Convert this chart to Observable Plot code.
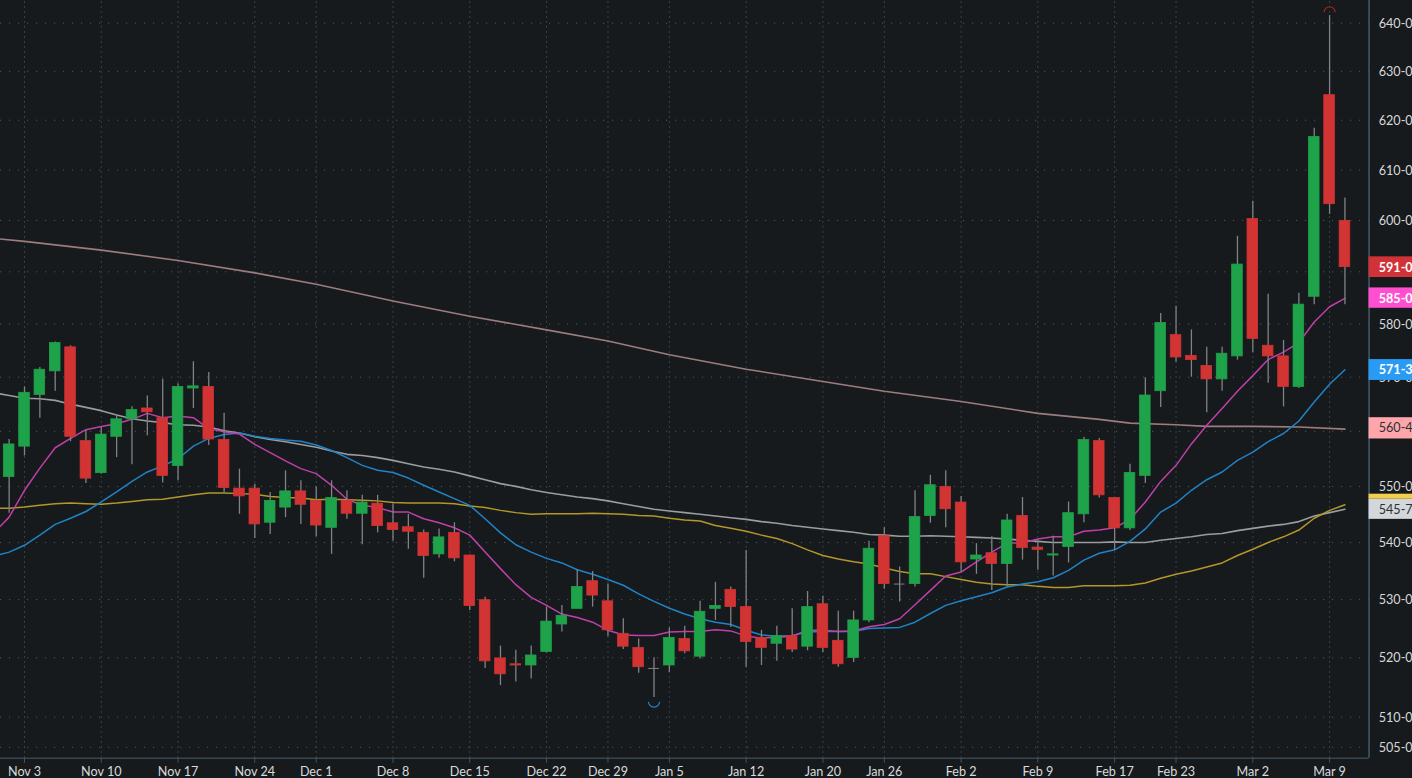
<!DOCTYPE html>
<html>
<head>
<meta charset="utf-8">
<script src="https://cdn.jsdelivr.net/npm/d3@7"></script>
<script src="https://cdn.jsdelivr.net/npm/@observablehq/plot@0.6"></script>
<style>
html,body{margin:0;padding:0;background:#161a1d;overflow:hidden}
</style>
</head>
<body>
<div id="chart"></div>
<script>
const opens=[551.7,557.2,566.7,571.1,575.6,558.2,552.4,559.0,562.2,564.2,562.4,553.7,567.9,568.2,558.4,549.6,549.6,543.5,546.2,549.1,547.4,542.6,547.4,545.1,546.9,543.4,542.7,541.7,537.9,541.7,537.7,529.9,519.9,518.9,518.7,521.0,525.7,528.4,533.2,529.7,524.1,521.7,518.2,518.7,523.2,520.2,528.4,531.7,528.7,523.4,522.4,523.7,521.9,529.2,522.9,520.0,526.4,541.1,532.7,532.7,544.7,549.9,547.1,537.0,538.1,536.2,544.7,539.1,537.7,539.2,545.0,558.2,547.9,542.5,551.9,567.4,577.9,574.0,572.1,569.6,573.9,600.3,575.9,573.9,568.2,585.2,625.1,599.9];
const closes=[557.6,567.1,571.4,576.4,559.0,551.4,559.4,562.2,563.9,563.5,551.9,568.2,568.3,558.5,549.7,548.2,543.2,547.4,549.1,546.7,543.0,547.9,545.1,547.1,542.9,542.2,541.9,537.6,540.9,537.2,528.9,519.4,517.2,518.7,520.4,526.2,527.2,532.2,530.7,524.7,521.9,518.4,518.2,523.4,521.1,527.9,528.9,528.7,522.7,521.7,523.7,521.4,528.7,521.7,518.9,526.4,538.9,532.7,532.7,544.5,550.2,545.9,536.5,537.7,536.2,543.9,539.0,538.7,537.9,545.2,558.4,548.4,542.5,552.4,566.6,580.2,573.7,573.2,569.6,574.4,591.4,577.2,573.9,568.2,583.7,616.6,603.2,590.9];
const highs=[558.5,568.2,571.8,576.6,575.9,560.2,560.7,562.9,564.5,566.5,569.6,568.8,572.9,570.9,563.3,553.1,550.4,548.9,552.8,551.0,549.9,551.0,549.2,548.4,548.4,546.9,545.0,542.2,542.4,543.5,537.8,530.4,522.0,521.3,522.0,528.7,529.0,535.2,534.9,532.7,526.7,523.2,520.0,525.1,525.4,529.7,533.0,532.2,538.6,524.7,525.4,528.4,531.4,530.6,528.0,528.0,540.2,542.6,535.7,549.2,552.0,552.8,548.2,539.8,541.0,545.0,548.0,540.4,541.1,547.2,558.9,558.7,547.9,554.0,569.9,582.0,583.4,578.9,575.6,575.6,596.9,603.8,585.7,576.9,585.9,618.4,641.6,604.4];
const lows=[545.2,555.5,562.4,567.4,558.1,550.5,552.2,555.2,553.9,559.2,550.6,551.0,564.2,557.4,548.8,545.0,540.7,541.4,544.4,543.2,541.0,537.9,544.1,539.6,541.7,540.2,538.8,533.7,537.2,536.6,528.1,518.2,515.3,515.9,516.4,520.8,524.4,528.4,528.7,523.6,521.4,517.4,513.3,517.5,520.7,519.8,526.4,525.2,518.4,518.7,519.4,520.9,521.2,520.9,518.4,519.2,526.0,531.8,529.6,532.2,543.4,542.6,534.8,534.4,531.6,532.2,536.9,535.1,534.1,536.4,543.5,547.9,538.6,542.1,550.5,564.4,572.8,570.0,563.4,567.4,573.2,574.6,568.9,564.5,567.9,583.7,601.2,583.7];

// moving averages: first value sits one bar left of the visible window
const maMagenta=[541.7,544.5,549.3,553.3,557,558.7,560.3,560.9,561.4,562.2,563.3,562.5,562.8,562.5,560.5,559.9,559.5,557.6,556.1,554.6,553.2,552.3,550.2,547.7,546.6,546.2,545.4,545.4,544.2,543.5,542.6,541.3,538.3,535.4,532.6,530.4,529,527.5,526.9,526.1,524.7,523.9,523.8,523.8,524.4,524.5,524.5,524.8,524.6,523.7,523.4,523.5,523.7,524.7,524.7,524.5,524.6,525.3,525.7,526.7,529.1,531.6,534.1,534.8,536.6,538.3,539.9,539.9,540.6,541,541,542,542.2,542.6,544.1,547.2,550.9,553.8,557.7,561.1,564.2,567.4,570.3,573.3,574.7,576.5,580.4,583.3,584.9];
const maBlue=[537.6,538.3,539.5,541.3,543.2,544.3,545.5,547.2,549,550.9,552.6,553.7,555,557.3,558.7,559.4,559.7,559.1,558.7,558.4,558.2,557.5,556.5,555.2,553.8,552.9,552.5,551.5,550.2,549,547.8,546.6,544.2,541.7,539.6,538.3,537.2,536.4,535.2,534.4,533.5,532.5,531,529.7,528.5,527.5,526.7,526.1,525.7,524.7,523.9,523.7,523.8,524.4,524.5,524.5,524.5,525,525.1,525.2,526.1,527.6,529,529.8,530.5,531.2,532.2,532.7,533.1,533.8,535.1,536.9,538.1,538.7,540.2,542.4,545.4,547,549.3,551.2,552.6,554.7,556.2,558.1,559.6,561.9,565.4,568.7,571.4];
const maGold=[546.1,546.1,546.3,546.6,546.9,547,546.9,546.8,547,547.3,547.6,547.7,548.1,548.5,548.8,548.8,548.7,548.6,548.2,548,547.9,547.6,547.7,547.6,547.5,547.4,547.1,547,547,547,546.9,546.5,546.2,545.7,545.3,545,545.1,545.1,545.1,545.2,545.1,545,544.8,544.7,544.3,544,543.8,543,542.5,542,541.3,540.7,539.8,538.7,537.7,537.1,536.6,536.2,535.5,534.9,534.5,534.5,534,533.5,533,532.7,532.6,532.6,532.3,532.1,532.1,532.4,532.4,532.4,532.5,532.9,533.7,534.4,535,535.7,536.4,537.7,538.8,540,541,542.2,544.3,545.7,546.7];
const maGray=[567.1,566.6,566.1,566,565.7,565,564.4,563.8,563,562.3,561.9,561.6,561.2,561.1,560.8,560.1,559.7,559,558.5,558.1,557.6,557.1,556.4,555.8,555.6,555.2,554.7,554.1,553.5,553.1,552.6,551.9,551.2,550.5,550,549.4,548.9,548.5,548.1,547.8,547.4,546.9,546.4,545.9,545.6,545.3,545,544.7,544.4,544.1,543.7,543.4,543,542.7,542.4,542.1,541.8,541.4,541.3,541.1,541.1,541.2,541.1,541,540.9,540.8,540.6,540.4,540.2,540,540,540,540,540.1,540,540,540.4,540.7,541,541.4,541.6,542.1,542.5,542.9,543.2,543.7,544.7,545.3,545.9];
const brownBars=[-1,1,6,11,16,20,25,30,35,39,43,48,53,57,62,67,71,73,76,78,81,84,87];
const maBrown=[596.5,595.9,594.2,592.2,589.8,587.6,584.4,581.5,578.9,576.8,574.2,571.5,569.2,567.4,565.5,563.3,562.2,561.5,561.2,560.9,560.9,560.8,560.4];

const dateBars=[1,6,11,16,20,25,30,35,39,43,48,53,57,62,67,72,76,81,86];
const dateLabels=["Nov 3","Nov 10","Nov 17","Nov 24","Dec 1","Dec 8","Dec 15","Dec 22","Dec 29","Jan 5","Jan 12","Jan 20","Jan 26","Feb 2","Feb 9","Feb 17","Feb 23","Mar 2","Mar 9"];
const gridPrices=[640,630,620,610,600,590,580,570,560,550,540,530,520,510,505];
const priceTicks=[640,630,620,610,600,580,570,550,540,530,520,510,505];

const lastLabels=["591-0","585-0","571-3","560-4","545-7"];
const labelCenters=[590.9,584.9,571.4,560.6,545.9];
const labelTops=[592.9,586.9,573.3,562.5,547.7];
const labelBottoms=[588.9,583.0,569.4,558.6,544.1];
const labelFills=["#d03237","#ff4fd0","#2a9bf5","#ffa6ad","#d3d7db"];
const labelInks=["#ffffff","#ffffff","#ffffff","#2b2f33","#2b2f33"];
const labelWeights=["bold","bold","bold","normal","normal"];
const goldStrip=[548.6,547.7];

const highMark=642.3, highBar=86, lowMark=512.6, lowBar=42;
const xMin=-0.5634, xAxis=88.57, xMax=91.4, xText=89.2;
const yMin=503.2, yMax=644.77;

const bars=opens.map((o,i)=>({i,o,c:closes[i],h:highs[i],l:lows[i]}));
const line=a=>a.map((v,k)=>({i:k-1,v}));
const up=bars.filter(d=>d.c>d.o), down=bars.filter(d=>d.c<d.o), flat=bars.filter(d=>d.c===d.o);
const labels=lastLabels.map((t,k)=>({t,c:labelCenters[k],a:labelTops[k],b:labelBottoms[k],f:labelFills[k],ink:labelInks[k],w:labelWeights[k]}));
const halfWidth=0.345;
const body=(data,color)=>Plot.rect(data,{x1:d=>d.i-halfWidth,x2:d=>d.i+halfWidth,y1:"o",y2:"c",fill:color,stroke:color,strokeWidth:0.8});
const maLine=(a,color,w=1.5)=>Plot.line(line(a),{x:"i",y:"v",stroke:color,strokeWidth:w,curve:"linear",clip:true});

const arc=(start,end)=>({draw(ctx,size){const r=Math.sqrt(size/Math.PI);ctx.arc(0,0,r,start,end);}});

const chart=Plot.plot({
  width:1412,height:778,
  marginLeft:0,marginRight:0,marginTop:0,marginBottom:20.3,
  style:{background:"#161a1d",fontFamily:"Lato",fontSize:"13px",color:"#d8d8d8"},
  x:{type:"linear",domain:[xMin,xMax],axis:null},
  y:{type:"log",domain:[yMin,yMax],axis:null},
  color:{type:"identity"},
  marks:[
    Plot.ruleY(gridPrices,{x1:xMin,x2:xAxis,stroke:"#50565a",strokeWidth:1,strokeDasharray:"1.2 7.8"}),
    Plot.ruleX(dateBars,{y1:yMin,y2:yMax,stroke:"#3f4f57",strokeWidth:1,strokeDasharray:"1.5 3.5"}),
    Plot.line(brownBars.map((b,k)=>({i:b,v:maBrown[k]})),{x:"i",y:"v",stroke:"#9c7c7e",strokeWidth:1.6,clip:true}),
    maLine(maGray,"#9a9c9e",1.6),
    maLine(maGold,"#b4962a",1.5),
    maLine(maBlue,"#2083c6",1.5),
    maLine(maMagenta,"#c03fa8",1.5),
    Plot.ruleX(bars,{x:"i",y1:"l",y2:"h",stroke:"#808284",strokeWidth:1.3}),
    body(up,"#1ea24a"),
    body(down,"#d23333"),
    Plot.ruleY(flat,{x1:d=>d.i-halfWidth,x2:d=>d.i+halfWidth,y:"o",stroke:"#808284",strokeWidth:1}),
    Plot.dot([{i:highBar,v:highMark}],{x:"i",y:"v",r:5.5,symbol:arc(Math.PI,2*Math.PI),stroke:"#b3261e",strokeWidth:1.1,fill:"none"}),
    Plot.dot([{i:lowBar,v:lowMark}],{x:"i",y:"v",r:5.5,symbol:arc(0,Math.PI),stroke:"#1e8fe0",strokeWidth:1.1,fill:"none"}),
    Plot.ruleY([yMin],{x1:xMin,x2:xAxis,stroke:"#37464e",strokeWidth:1.6}),
    Plot.ruleX([xAxis],{y1:yMin,y2:yMax,stroke:"#4f6b80",strokeWidth:1.2}),
    Plot.axisX(dateBars,{label:null,tickSize:5,tickPadding:4,stroke:"#45545d",tickFormat:d=>dateLabels[dateBars.indexOf(d)],fill:"#d8dadc",fontSize:12.6}),
    Plot.text(priceTicks,{x:xText,y:d=>d,dy:0.6,text:d=>d+"-0",textAnchor:"start",fill:"#d8d8d8",fontSize:12.6}),
    Plot.rect(labels,{x1:xAxis,x2:xMax,y1:"a",y2:"b",fill:"f"}),
    Plot.rect([goldStrip],{x1:xAxis,x2:xMax,y1:d=>d[0],y2:d=>d[1],fill:"#f2ce4e"}),
    Plot.text(labels.filter(d=>d.w==="bold"),{x:xText,y:"c",dy:0.4,text:"t",textAnchor:"start",fill:"ink",fontWeight:"bold",fontSize:12.6}),
    Plot.text(labels.filter(d=>d.w!=="bold"),{x:xText,y:"c",dy:0.4,text:"t",textAnchor:"start",fill:"ink",fontSize:12.6})
  ]
});
document.getElementById("chart").append(chart);
</script>
</body>
</html>
